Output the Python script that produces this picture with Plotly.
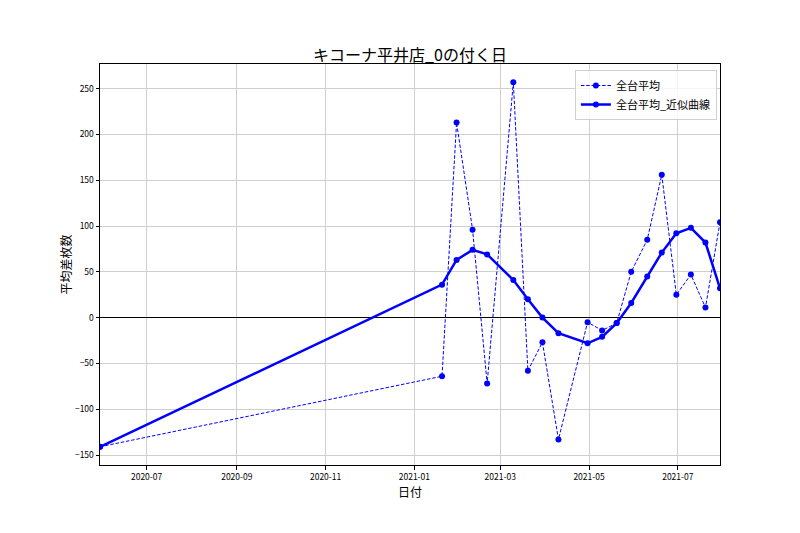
import plotly.graph_objects as go

dates = ["2020-05-30", "2021-01-20", "2021-01-30", "2021-02-10", "2021-02-20",
         "2021-03-10", "2021-03-20", "2021-03-30", "2021-04-10", "2021-04-30",
         "2021-05-10", "2021-05-20", "2021-05-30", "2021-06-10", "2021-06-20",
         "2021-06-30", "2021-07-10", "2021-07-20", "2021-07-30"]
avg = [-141, -64, 213, 96, -72,
       257, -58, -27, -133, -5,
       -14, -6, 50, 85, 156,
       25, 47, 11, 104]
smooth = [-141, 36, 63, 74, 69,
          41, 20, 0, -17, -28,
          -21, -6, 16, 45, 71,
          92, 98, 82, 32]

FONT = "Noto Sans CJK JP, DejaVu Sans, sans-serif"
BLUE = "#0000ff"

fig = go.Figure()
fig.add_trace(go.Scatter(
    x=dates, y=avg, name="全台平均", mode="lines+markers",
    line=dict(color=BLUE, width=1, dash="3.5px,1.8px"),
    marker=dict(color=BLUE, size=6),
))
fig.add_trace(go.Scatter(
    x=dates, y=smooth, name="全台平均_近似曲線", mode="lines+markers",
    line=dict(color=BLUE, width=2.5),
    marker=dict(color=BLUE, size=6),
))

axis_common = dict(
    showgrid=True, gridcolor="#cfcfcf", gridwidth=1,
    showline=True, linecolor="black", linewidth=1, mirror=True,
    ticks="outside", ticklen=3.5, tickcolor="black",
    tickfont=dict(size=8.5, color="black", family=FONT),
    automargin=False,
)

fig.update_layout(
    width=800, height=533,
    margin=dict(l=92, r=88, t=56, b=76),
    paper_bgcolor="white", plot_bgcolor="white",
    font=dict(family=FONT, color="black"),
    title=dict(text="キコーナ平井店_0の付く日", x=0.5025, xanchor="center",
               y=1 - 47 / 533, yanchor="middle",
               font=dict(size=16, family=FONT, color="black")),
    xaxis=dict(
        range=["2020-05-30", "2021-07-30"],
        tick0="2020-07-01", dtick="M2", tickformat="%Y-%m",
        **axis_common,
    ),
    yaxis=dict(
        range=[-160.9, 276.9], tick0=0, dtick=50,
        zeroline=True, zerolinecolor="black", zerolinewidth=1.3,
        title=dict(text="平均差枚数", font=dict(size=12, family=FONT), standoff=0),
        **axis_common,
    ),
    legend=dict(
        x=0.995, y=0.985, xanchor="right", yanchor="top",
        bgcolor="rgba(255,255,255,0.8)", bordercolor="#d0d0d0", borderwidth=1,
        font=dict(size=11, family=FONT, color="black"),
        tracegroupgap=0, itemwidth=30,
    ),
    showlegend=True,
    annotations=[dict(
        text="日付", xref="paper", yref="paper", x=0.5, y=-0.042,
        xanchor="center", yanchor="top", showarrow=False, borderpad=0,
        font=dict(size=12, family=FONT, color="black"),
    )],
)

fig.write_html("out.html")
